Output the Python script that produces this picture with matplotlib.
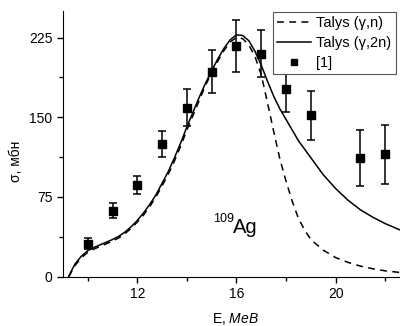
import matplotlib.pyplot as plt
from matplotlib.lines import Line2D
from matplotlib.ticker import MultipleLocator

plt.rcParams['font.family'] = ['Liberation Sans', 'DejaVu Sans']
plt.rcParams['mathtext.fontset'] = 'custom'
plt.rcParams['mathtext.rm'] = 'Liberation Sans'
plt.rcParams['mathtext.it'] = 'Liberation Sans:italic'

# experimental points [1]
E_exp = [10, 11, 12, 13, 14, 15, 16, 17, 18, 19, 21, 22]
sigma_exp = [31, 62, 86, 125, 159, 193, 217, 210, 177, 152, 112, 115]
err_exp = [5, 7, 8.5, 12.5, 17.5, 20.5, 24.5, 22.5, 22, 23, 26.5, 28]

# Talys curves
E_calc = [9.23, 9.35, 9.5, 9.75, 10, 10.25, 10.5, 10.75, 11, 11.25, 11.5,
          11.75, 12, 12.25, 12.5, 12.75, 13, 13.25, 13.5, 13.75, 14, 14.25,
          14.5, 14.75, 15, 15.25, 15.5, 15.75, 16, 16.25, 16.5, 16.75, 17,
          17.25, 17.5, 17.75, 18, 18.25, 18.5, 18.75, 19, 19.5, 20, 20.5,
          21, 21.5, 22, 22.6]
sigma_gn = [0, 5, 11, 18, 23, 26, 28.5, 31, 33.5, 36.5, 40.5,
            45.5, 51.5, 58, 66, 75, 85.5, 96.5, 109, 123, 138, 152,
            166, 180, 192, 203, 213, 221, 225, 224, 218, 207, 190,
            164, 137, 111, 90, 71, 55, 44, 35, 25, 18, 13.5,
            10, 7.5, 5.5, 4]
sigma_g2n = [0, 6, 12.5, 19.5, 24.5, 27.5, 30, 32.5, 35, 38, 42,
             47, 53, 60, 68, 77, 88, 99, 112, 126, 141, 155,
             169, 182, 194, 205, 215, 223, 227.5, 227, 222, 212, 199,
             184, 170, 158, 148, 138, 128, 120, 112, 96, 83, 72,
             63, 56, 50, 44]

fig = plt.figure(figsize=(4.0, 3.26), dpi=100)
ax = fig.add_axes([63 / 400, 49.3 / 326, 337 / 400, 265.7 / 326])

ax.plot(E_calc, sigma_gn, color='black', linewidth=1.1,
        linestyle=(0, (4.5, 3.5)))
ax.plot(E_calc, sigma_g2n, color='black', linewidth=1.1)
ax.errorbar(E_exp, sigma_exp, yerr=err_exp, fmt='s', color='black',
            markersize=6, elinewidth=1.1, capsize=2.8, capthick=1.1)

ax.set_xlim(9, 22.6)
ax.set_ylim(0, 250)
ax.xaxis.set_major_locator(MultipleLocator(4))
ax.xaxis.set_minor_locator(MultipleLocator(2))
ax.yaxis.set_major_locator(MultipleLocator(75))
ax.yaxis.set_minor_locator(MultipleLocator(37.5))
ax.tick_params(which='both', direction='out', labelsize=10, width=1)
ax.tick_params(which='major', length=4)
ax.tick_params(which='minor', length=3)
ax.spines['top'].set_visible(False)
ax.spines['right'].set_visible(False)

ax.set_xlabel('E, $\\it{MeB}$', fontsize=10)
ax.xaxis.set_label_coords(0.513, -0.13)
ax.set_ylabel('σ, мбн', fontsize=10)
ax.yaxis.set_label_coords(-0.12, 0.435)

ax.text(15.05, 51.7, '109', fontsize=9, va='baseline')
ax.text(15.86, 41, 'Ag', fontsize=14.5, va='baseline')

handles = [
    Line2D([], [], color='black', linewidth=1.1, linestyle=(0, (4.5, 3.5))),
    Line2D([], [], color='black', linewidth=1.1),
    Line2D([], [], color='black', linestyle='none', marker='s', markersize=5),
]
labels = ['Talys (γ,n)', 'Talys (γ,2n)', '[1]']
leg = ax.legend(handles, labels, loc='upper left',
                bbox_to_anchor=(272.7 / 400, 1 - 11.7 / 326),
                bbox_transform=fig.transFigure, fontsize=10.5, frameon=True,
                fancybox=False, framealpha=1, edgecolor='#555555',
                handlelength=2.3, handletextpad=0.4, labelspacing=0.4,
                borderpad=0.3, borderaxespad=0)
leg.get_frame().set_linewidth(0.8)

fig.savefig('out.png', dpi=100)
